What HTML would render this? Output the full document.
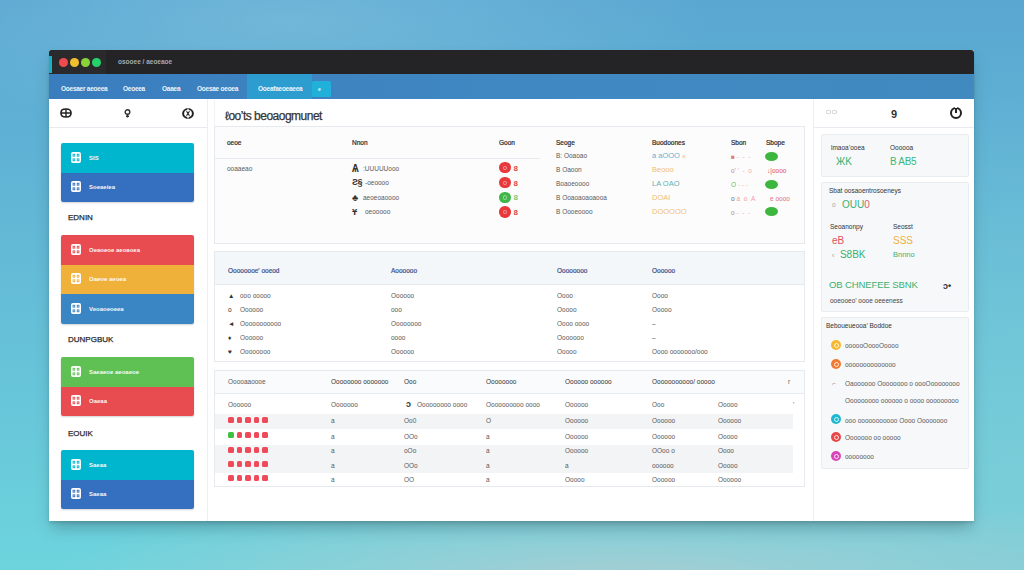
<!DOCTYPE html>
<html><head><meta charset="utf-8">
<style>
*{margin:0;padding:0;box-sizing:border-box}
html,body{width:1024px;height:570px;overflow:hidden}
body{font-family:"Liberation Sans",sans-serif;position:relative;
background:
radial-gradient(ellipse 420px 120px at 290px 20px, rgba(140,200,225,0.45), rgba(140,200,225,0) 100%),
radial-gradient(ellipse 580px 95px at 630px 580px, rgba(172,205,210,0.92), rgba(172,205,210,0) 100%),
radial-gradient(ellipse 300px 480px at 1024px 570px, rgba(128,205,215,0.8), rgba(128,205,215,0) 100%),
linear-gradient(180deg,#5aa7d2 0%,#63bad6 45%,#6dd4dd 100%);}
.a{position:absolute}
.win{position:absolute;left:49px;top:49.5px;width:925px;height:471.5px;background:#fff;box-shadow:0 9px 14px -3px rgba(50,85,95,0.42),0 2px 3px rgba(0,0,0,0.12);border-radius:2px 2px 0 0}
.dot{position:absolute;top:57.6px;width:9px;height:9px;border-radius:50%}
.nt{position:absolute;top:84.5px;color:#eef5fb;font-size:6.5px;font-weight:bold;letter-spacing:-0.25px;white-space:nowrap;line-height:7px}
.t{position:absolute;white-space:nowrap;line-height:1}
.hl{position:absolute;height:1px;background:#e7ebef}
.vl{position:absolute;width:1px;background:#e7ebef}
.card{position:absolute;left:61px;width:133px;border-radius:2px;overflow:hidden;box-shadow:0 1px 2px rgba(0,0,0,0.18)}
.card div.r{height:29.5px;position:relative}
.ci{position:absolute;left:7px;top:8px;width:10px;height:12px;border:1.5px solid #fff;border-radius:2px}
.ci:before{content:"";position:absolute;left:1.5px;top:1.5px;width:4px;height:6px;border-right:1.5px solid #fff;border-bottom:1.5px solid #fff}
.ct{position:absolute;left:28px;top:11.5px;font-size:6px;color:#fff;font-weight:bold;white-space:nowrap;line-height:7px;opacity:0.95}
.lbl{position:absolute;font-size:8px;color:#2a2a2a;font-weight:normal;-webkit-text-stroke:0.25px #2a2a2a;letter-spacing:0px;line-height:8px}
.panel{position:absolute;left:214px;width:591px;border:1px solid #e6eaee;background:#fcfcfd}
.s{font-size:6.5px;color:#5a5a5a;line-height:7px}
.h{font-size:6.5px;color:#2a2a2a;font-weight:normal;-webkit-text-stroke:0.2px currentColor;line-height:7px}
</style></head><body>
<div class="win"></div>
<!-- title bar -->
<div class="a" style="left:49px;top:49.5px;width:925px;height:24.3px;background:#242427;border-radius:3px 3px 0 0"></div>
<div class="a" style="left:49px;top:49.5px;width:57px;height:24.3px;background:#2a2a2d;border-radius:3px 0 0 0"></div>
<div class="a" style="left:49px;top:55.5px;width:2.6px;height:17.7px;background:#14b4c6"></div>
<div class="dot" style="left:59.1px;background:#ef4b4f"></div>
<div class="dot" style="left:69.7px;background:#f2c02e"></div>
<div class="dot" style="left:81px;background:#8bd23a"></div>
<div class="dot" style="left:92.4px;background:#25d36b"></div>
<div class="t" style="left:118px;top:58.5px;font-size:6.5px;color:#a8a8ac;font-weight:bold">osooee / aeoeaoe</div>
<!-- nav -->
<div class="a" style="left:49px;top:73.8px;width:925px;height:25px;background:linear-gradient(90deg,#3a7dbf 0%,#3f88c2 50%,#418ac0 100%)"></div>
<div class="nt" style="left:61px">Ooesaer aeoeea</div>
<div class="nt" style="left:123px">Oeoeea</div>
<div class="nt" style="left:162px">Oaaea</div>
<div class="nt" style="left:197px">Ooesae oeoea</div>
<div class="a" style="left:246.5px;top:73.8px;width:65px;height:25px;background:#2d9ccf"></div>
<div class="nt" style="left:258px">Ooeafaeoeaeea</div>
<div class="a" style="left:311.7px;top:81px;width:19.5px;height:16px;background:#20b0da;border-radius:1.5px"></div>
<div class="nt" style="left:318px;top:86px;font-size:5px">e</div>

<!-- left sidebar -->
<div class="vl" style="left:207px;top:99px;height:422px;background:#eceff2"></div>
<div class="hl" style="left:49px;top:127px;width:158px"></div>
<svg class="a" style="left:60px;top:108px" width="12" height="10" viewBox="0 0 12 10"><path d="M6 1 C2.2 1 1 2 1 5 C1 8 2.2 9 6 9 C9.8 9 11 8 11 5 C11 2 9.8 1 6 1 Z" stroke="#222" stroke-width="1.7" fill="none"/><path d="M6 1V9M1.5 5H10.5" stroke="#222" stroke-width="1.4"/></svg>
<svg class="a" style="left:124px;top:108.5px" width="7" height="9" viewBox="0 0 7 9"><circle cx="3.5" cy="3" r="2.3" stroke="#333" stroke-width="1.4" fill="none"/><path d="M3.5 5.3V8.6M2 7.3H5" stroke="#333" stroke-width="1.4"/></svg>
<svg class="a" style="left:181.5px;top:107.5px" width="12" height="11" viewBox="0 0 12 11"><ellipse cx="6" cy="5.5" rx="4.9" ry="4.4" stroke="#222" stroke-width="2" fill="none"/><path d="M6 0.5V4M6 7V10.5" stroke="#fff" stroke-width="1.3"/><path d="M4.5 3.2L6 5.5L4.5 7.8M7.5 3.2L6 5.5L7.5 7.8" stroke="#222" stroke-width="1.1" fill="none"/></svg>

<div class="card" style="top:143px"><div class="r" style="background:#00b6cf"><svg class="ic" width="10" height="11" viewBox="0 0 10 11" style="position:absolute;left:9.8px;top:8.5px"><rect x="0" y="0" width="10" height="11" rx="2" fill="#fff"/><rect x="1.6" y="1.8" width="2.6" height="2.8" fill="#00b6cf"/><rect x="5.8" y="1.8" width="2.6" height="2.8" fill="#00b6cf"/><rect x="1.6" y="6.4" width="2.6" height="2.8" fill="#00b6cf"/><rect x="5.8" y="6.4" width="2.6" height="2.8" fill="#00b6cf"/><rect x="2.5" y="2.7" width="0.9" height="1" fill="#fff"/><rect x="6.7" y="2.7" width="0.9" height="1" fill="#fff"/><rect x="2.5" y="7.3" width="0.9" height="1" fill="#fff"/><rect x="6.7" y="7.3" width="0.9" height="1" fill="#fff"/></svg><div class="ct">SIS</div></div><div class="r" style="background:#356fc0"><svg class="ic" width="10" height="11" viewBox="0 0 10 11" style="position:absolute;left:9.8px;top:8.5px"><rect x="0" y="0" width="10" height="11" rx="2" fill="#fff"/><rect x="1.6" y="1.8" width="2.6" height="2.8" fill="#356fc0"/><rect x="5.8" y="1.8" width="2.6" height="2.8" fill="#356fc0"/><rect x="1.6" y="6.4" width="2.6" height="2.8" fill="#356fc0"/><rect x="5.8" y="6.4" width="2.6" height="2.8" fill="#356fc0"/><rect x="2.5" y="2.7" width="0.9" height="1" fill="#fff"/><rect x="6.7" y="2.7" width="0.9" height="1" fill="#fff"/><rect x="2.5" y="7.3" width="0.9" height="1" fill="#fff"/><rect x="6.7" y="7.3" width="0.9" height="1" fill="#fff"/></svg><div class="ct">Soeaeiea</div></div></div>
<div class="lbl" style="left:68px;top:213.5px">EDNIN</div>
<div class="card" style="top:235px"><div class="r" style="background:#e84b50"><svg class="ic" width="10" height="11" viewBox="0 0 10 11" style="position:absolute;left:9.8px;top:8.5px"><rect x="0" y="0" width="10" height="11" rx="2" fill="#fff"/><rect x="1.6" y="1.8" width="2.6" height="2.8" fill="#e84b50"/><rect x="5.8" y="1.8" width="2.6" height="2.8" fill="#e84b50"/><rect x="1.6" y="6.4" width="2.6" height="2.8" fill="#e84b50"/><rect x="5.8" y="6.4" width="2.6" height="2.8" fill="#e84b50"/><rect x="2.5" y="2.7" width="0.9" height="1" fill="#fff"/><rect x="6.7" y="2.7" width="0.9" height="1" fill="#fff"/><rect x="2.5" y="7.3" width="0.9" height="1" fill="#fff"/><rect x="6.7" y="7.3" width="0.9" height="1" fill="#fff"/></svg><div class="ct">Oeaoeoe aeoaoea</div></div><div class="r" style="background:#f0b13a"><svg class="ic" width="10" height="11" viewBox="0 0 10 11" style="position:absolute;left:9.8px;top:8.5px"><rect x="0" y="0" width="10" height="11" rx="2" fill="#fff"/><rect x="1.6" y="1.8" width="2.6" height="2.8" fill="#f0b13a"/><rect x="5.8" y="1.8" width="2.6" height="2.8" fill="#f0b13a"/><rect x="1.6" y="6.4" width="2.6" height="2.8" fill="#f0b13a"/><rect x="5.8" y="6.4" width="2.6" height="2.8" fill="#f0b13a"/><rect x="2.5" y="2.7" width="0.9" height="1" fill="#fff"/><rect x="6.7" y="2.7" width="0.9" height="1" fill="#fff"/><rect x="2.5" y="7.3" width="0.9" height="1" fill="#fff"/><rect x="6.7" y="7.3" width="0.9" height="1" fill="#fff"/></svg><div class="ct">Oaeoe aeoea</div></div><div class="r" style="background:#3a86c4"><svg class="ic" width="10" height="11" viewBox="0 0 10 11" style="position:absolute;left:9.8px;top:8.5px"><rect x="0" y="0" width="10" height="11" rx="2" fill="#fff"/><rect x="1.6" y="1.8" width="2.6" height="2.8" fill="#3a86c4"/><rect x="5.8" y="1.8" width="2.6" height="2.8" fill="#3a86c4"/><rect x="1.6" y="6.4" width="2.6" height="2.8" fill="#3a86c4"/><rect x="5.8" y="6.4" width="2.6" height="2.8" fill="#3a86c4"/><rect x="2.5" y="2.7" width="0.9" height="1" fill="#fff"/><rect x="6.7" y="2.7" width="0.9" height="1" fill="#fff"/><rect x="2.5" y="7.3" width="0.9" height="1" fill="#fff"/><rect x="6.7" y="7.3" width="0.9" height="1" fill="#fff"/></svg><div class="ct">Veoaoeoeea</div></div></div>
<div class="lbl" style="left:68px;top:335.5px">DUNPGBUK</div>
<div class="card" style="top:357px"><div class="r" style="background:#5fc054"><svg class="ic" width="10" height="11" viewBox="0 0 10 11" style="position:absolute;left:9.8px;top:8.5px"><rect x="0" y="0" width="10" height="11" rx="2" fill="#fff"/><rect x="1.6" y="1.8" width="2.6" height="2.8" fill="#5fc054"/><rect x="5.8" y="1.8" width="2.6" height="2.8" fill="#5fc054"/><rect x="1.6" y="6.4" width="2.6" height="2.8" fill="#5fc054"/><rect x="5.8" y="6.4" width="2.6" height="2.8" fill="#5fc054"/><rect x="2.5" y="2.7" width="0.9" height="1" fill="#fff"/><rect x="6.7" y="2.7" width="0.9" height="1" fill="#fff"/><rect x="2.5" y="7.3" width="0.9" height="1" fill="#fff"/><rect x="6.7" y="7.3" width="0.9" height="1" fill="#fff"/></svg><div class="ct">Saeaeoe aeoaeoe</div></div><div class="r" style="background:#e84b50"><svg class="ic" width="10" height="11" viewBox="0 0 10 11" style="position:absolute;left:9.8px;top:8.5px"><rect x="0" y="0" width="10" height="11" rx="2" fill="#fff"/><rect x="1.6" y="1.8" width="2.6" height="2.8" fill="#e84b50"/><rect x="5.8" y="1.8" width="2.6" height="2.8" fill="#e84b50"/><rect x="1.6" y="6.4" width="2.6" height="2.8" fill="#e84b50"/><rect x="5.8" y="6.4" width="2.6" height="2.8" fill="#e84b50"/><rect x="2.5" y="2.7" width="0.9" height="1" fill="#fff"/><rect x="6.7" y="2.7" width="0.9" height="1" fill="#fff"/><rect x="2.5" y="7.3" width="0.9" height="1" fill="#fff"/><rect x="6.7" y="7.3" width="0.9" height="1" fill="#fff"/></svg><div class="ct">Oaeaa</div></div></div>
<div class="lbl" style="left:68px;top:429.5px">EOUIK</div>
<div class="card" style="top:450px"><div class="r" style="background:#00b6cf"><svg class="ic" width="10" height="11" viewBox="0 0 10 11" style="position:absolute;left:9.8px;top:8.5px"><rect x="0" y="0" width="10" height="11" rx="2" fill="#fff"/><rect x="1.6" y="1.8" width="2.6" height="2.8" fill="#00b6cf"/><rect x="5.8" y="1.8" width="2.6" height="2.8" fill="#00b6cf"/><rect x="1.6" y="6.4" width="2.6" height="2.8" fill="#00b6cf"/><rect x="5.8" y="6.4" width="2.6" height="2.8" fill="#00b6cf"/><rect x="2.5" y="2.7" width="0.9" height="1" fill="#fff"/><rect x="6.7" y="2.7" width="0.9" height="1" fill="#fff"/><rect x="2.5" y="7.3" width="0.9" height="1" fill="#fff"/><rect x="6.7" y="7.3" width="0.9" height="1" fill="#fff"/></svg><div class="ct">Saeaa</div></div><div class="r" style="background:#356fc0"><svg class="ic" width="10" height="11" viewBox="0 0 10 11" style="position:absolute;left:9.8px;top:8.5px"><rect x="0" y="0" width="10" height="11" rx="2" fill="#fff"/><rect x="1.6" y="1.8" width="2.6" height="2.8" fill="#356fc0"/><rect x="5.8" y="1.8" width="2.6" height="2.8" fill="#356fc0"/><rect x="1.6" y="6.4" width="2.6" height="2.8" fill="#356fc0"/><rect x="5.8" y="6.4" width="2.6" height="2.8" fill="#356fc0"/><rect x="2.5" y="2.7" width="0.9" height="1" fill="#fff"/><rect x="6.7" y="2.7" width="0.9" height="1" fill="#fff"/><rect x="2.5" y="7.3" width="0.9" height="1" fill="#fff"/><rect x="6.7" y="7.3" width="0.9" height="1" fill="#fff"/></svg><div class="ct">Saeaa</div></div></div>


<!-- main -->
<div class="vl" style="left:214px;top:100px;height:26px;background:#f0f2f4"></div>
<div class="t" id="ttl" style="left:225px;top:109.5px;font-size:12px;color:#333;-webkit-text-stroke:0.25px #333;letter-spacing:-0.5px">&#x2113;oo&#x2019;ts beoaogmunet</div>

<div class="panel" style="top:126px;height:118px"></div>
<div class="hl" style="left:215px;top:158px;width:325px"></div>
<div class="t h" style="left:227px;top:139px">oeoe</div>
<div class="t h" style="left:352px;top:139px">Nnon</div>
<div class="t h" style="left:499px;top:139px">Goon</div>
<div class="t h" style="left:556px;top:139px">Seoge</div>
<div class="t h" style="left:652px;top:139px">Buodoones</div>
<div class="t h" style="left:731px;top:139px">Sbon</div>
<div class="t h" style="left:766px;top:139px">Sbope</div>

<div class="t s" style="left:227px;top:165px">ooaaeao</div>
<div class="t" style="left:352px;top:164px;font-size:10px;font-weight:bold;color:#333;letter-spacing:-1px">&#x0466;</div><div class="t s" style="left:363px;top:165px">:UUUUUooo</div>
<div class="t" style="left:352px;top:178px;font-size:9px;font-weight:bold;color:#333;letter-spacing:-0.5px">&#x01A7;&#x00A7;</div><div class="t s" style="left:365px;top:179px">-oeoooo</div>
<div class="t" style="left:352px;top:192.5px;font-size:9.5px;font-weight:bold;color:#333">&#x2663;</div><div class="t s" style="left:363px;top:194px">aeoeoaoooo</div>
<div class="t" style="left:352px;top:206.5px;font-size:9.5px;font-weight:bold;color:#333">&#x04B0;</div><div class="t s" style="left:365px;top:208px">oeooooo</div>

<div class="a" style="left:499.2px;top:162px;width:11.4px;height:11.4px;border-radius:50%;background:#e8383b"></div><div class="a" style="left:503px;top:165.5px;width:4px;height:4.5px;border-radius:50%;border:1px solid rgba(255,255,255,0.45)"></div><div class="t" style="left:513.5px;top:164.5px;font-size:8px;font-weight:bold;color:#e04848">8</div>
<div class="a" style="left:499.2px;top:177px;width:11.4px;height:11.4px;border-radius:50%;background:#e8383b"></div><div class="a" style="left:503px;top:180.5px;width:4px;height:4.5px;border-radius:50%;border:1px solid rgba(255,255,255,0.45)"></div><div class="t" style="left:513.5px;top:179.5px;font-size:8px;font-weight:bold;color:#e04848">8</div>
<div class="a" style="left:499.2px;top:191.5px;width:11.4px;height:11.4px;border-radius:50%;background:#3fb648"></div><div class="a" style="left:503px;top:195.0px;width:4px;height:4.5px;border-radius:50%;border:1px solid rgba(255,255,255,0.45)"></div><div class="t" style="left:513.5px;top:194.0px;font-size:8px;font-weight:bold;color:#78c878">8</div>
<div class="a" style="left:499.2px;top:206.3px;width:11.4px;height:11.4px;border-radius:50%;background:#e8383b"></div><div class="a" style="left:503px;top:209.8px;width:4px;height:4.5px;border-radius:50%;border:1px solid rgba(255,255,255,0.45)"></div><div class="t" style="left:513.5px;top:208.8px;font-size:8px;font-weight:bold;color:#e04848">8</div>

<div class="t s" style="left:556px;top:152px">&#x0042;: Ooaoao</div>
<div class="t s" style="left:556px;top:166px">&#x0042; Oaoon</div>
<div class="t s" style="left:556px;top:180px">&#x0042;oaoeoooo</div>
<div class="t s" style="left:556px;top:194px">&#x0042; Ooaoaoaoaooa</div>
<div class="t s" style="left:556px;top:208px">&#x0042; Oooeoooo</div>

<div class="t s" style="left:652px;top:152px;color:#6aaed0;font-size:7.5px">a aOOO <span style="color:#f0c890;font-size:6px">a</span></div>
<div class="t s" style="left:652px;top:166px;color:#f0c070;font-size:7.5px">Beooo</div>
<div class="t s" style="left:652px;top:180px;color:#60b0b0;font-size:7.5px">LA OAO</div>
<div class="t s" style="left:652px;top:194px;color:#f0c070;font-size:7.5px">DOAI</div>
<div class="t s" style="left:652px;top:208px;color:#f0c070;font-size:7.5px">DOOOOO</div>

<div class="t s" style="left:731px;top:153px;color:#e08070">&#x25A0; <span style="color:#f0b0b0">- &nbsp;- &nbsp;-</span></div>
<div class="t s" style="left:731px;top:167px;color:#c09080">o&#x2019; <span style="color:#f0b0b0">' &nbsp;- &nbsp;o</span></div>
<div class="t s" style="left:731px;top:181px;color:#60c060">O <span style="color:#f0c0a0">- - -</span></div>
<div class="t s" style="left:731px;top:195px;color:#707070">o <span style="color:#f0a0a0">a &nbsp;o &nbsp;A</span></div>
<div class="t s" style="left:731px;top:209px;color:#b09060">o <span style="color:#f0b0b0">- &nbsp;- &nbsp;-</span></div>

<div class="a" style="left:765px;top:152px;width:13px;height:9px;border-radius:50%;background:#3cb63c"></div>
<div class="t s" style="left:767px;top:167px;color:#e05060">&#x2193;|oooo</div>
<div class="a" style="left:765px;top:180px;width:13px;height:9px;border-radius:50%;background:#3cb63c"></div>
<div class="t s" style="left:770px;top:195px;color:#e07080">e oooo</div>
<div class="a" style="left:765px;top:207px;width:13px;height:9px;border-radius:50%;background:#3cb63c"></div>

<div class="panel" style="top:251px;height:111px;background:#fff"></div>
<div class="a" style="left:215px;top:252px;width:589px;height:33px;background:#f4f7fa;border-bottom:1px solid #e6eaee"></div>
<div class="t h" style="left:228px;top:267px;color:#3c4f8c;font-weight:normal">Oooooooe' ooeod</div>
<div class="t h" style="left:391px;top:267px;color:#3c4f8c;font-weight:normal">Aoooooo</div>
<div class="t h" style="left:557px;top:267px;color:#3c4f8c;font-weight:normal">Oooooooo</div>
<div class="t h" style="left:652px;top:267px;color:#3c4f8c;font-weight:normal">Oooooo</div>

<div class="t s" style="left:228px;top:292px;color:#333">&#x25B2;</div><div class="t s" style="left:240px;top:292px">ooo ooooo</div>
<div class="t s" style="left:228px;top:306px;color:#333">o</div><div class="t s" style="left:240px;top:306px">Oooooo</div>
<div class="t s" style="left:228px;top:320px;color:#333">&#x25C4;</div><div class="t s" style="left:240px;top:320px">Ooooooooooo</div>
<div class="t s" style="left:228px;top:334px;color:#333">&#x2666;</div><div class="t s" style="left:240px;top:334px">Oooooo</div>
<div class="t s" style="left:228px;top:348px;color:#333">&#x2665;</div><div class="t s" style="left:240px;top:348px">Oooooooo</div>

<div class="t s" style="left:391px;top:292px">Oooooo</div>
<div class="t s" style="left:391px;top:306px">ooo</div>
<div class="t s" style="left:391px;top:320px">Oooooooo</div>
<div class="t s" style="left:391px;top:334px">oooo</div>
<div class="t s" style="left:391px;top:348px">Oooooo</div>

<div class="t s" style="left:557px;top:292px">Oooo</div>
<div class="t s" style="left:557px;top:306px">Ooooo</div>
<div class="t s" style="left:557px;top:320px">Oooo oooo</div>
<div class="t s" style="left:557px;top:334px">Ooooooo</div>
<div class="t s" style="left:557px;top:348px">Ooooo</div>

<div class="t s" style="left:652px;top:292px">Oooo</div>
<div class="t s" style="left:652px;top:306px">Ooooo</div>
<div class="t s" style="left:652px;top:320px">&#x2013;</div>
<div class="t s" style="left:652px;top:334px">&#x2013;</div>
<div class="t s" style="left:652px;top:348px">Oooo ooooooo/ooo</div>

<div class="panel" style="top:370px;height:117px;background:#fff"></div>
<div class="a" style="left:215px;top:371px;width:589px;height:22px;background:#fafbfc"></div><div class="hl" style="left:215px;top:393px;width:589px"></div>
<div class="a" style="left:215px;top:414px;width:578px;height:15px;background:#f3f4f5"></div>
<div class="a" style="left:215px;top:445px;width:578px;height:28px;background:#f3f4f5"></div>
<div class="t s" style="left:228px;top:378px">Ooooaaoooe</div>
<div class="t s" style="left:331px;top:378px;color:#333">Oooooooo ooooooo</div>
<div class="t s" style="left:404px;top:378px;color:#333">Ooo</div>
<div class="t s" style="left:486px;top:378px;color:#333">Oooooooo</div>
<div class="t s" style="left:565px;top:378px;color:#333">Oooooo oooooo</div>
<div class="t s" style="left:652px;top:378px;color:#333">Ooooooooooo/ ooooo</div>
<div class="t s" style="left:788px;top:378px">r</div>

<div class="t s" style="left:228px;top:401px">Oooooo</div>
<div class="t s" style="left:331px;top:401px">Ooooooo</div>
<div class="t" style="left:406px;top:399.5px;font-size:9px;font-weight:bold;color:#333">&#x0254;</div><div class="t s" style="left:417px;top:401px">Ooooooooo oooo</div>
<div class="t s" style="left:486px;top:401px">Oooooooooo oooo</div>
<div class="t s" style="left:565px;top:401px">Oooooo</div>
<div class="t s" style="left:652px;top:401px">Ooo</div>
<div class="t s" style="left:718px;top:401px">Ooooo</div>
<div class="t s" style="left:793px;top:401px">'</div>
<div class="a" style="left:228px;top:417px;width:5.5px;height:5.5px;border-radius:1.5px;background:#ee4a5a"></div><div class="a" style="left:236.5px;top:417px;width:5.5px;height:5.5px;border-radius:1.5px;background:#ee4a5a"></div><div class="a" style="left:245px;top:417px;width:5.5px;height:5.5px;border-radius:1.5px;background:#ee4a5a"></div><div class="a" style="left:253.5px;top:417px;width:5.5px;height:5.5px;border-radius:1.5px;background:#ee4a5a"></div><div class="a" style="left:262px;top:417px;width:5.5px;height:5.5px;border-radius:1.5px;background:#ee4a5a"></div><div class="t s" style="left:331px;top:417.3px">a</div><div class="t s" style="left:404px;top:417.3px">Oo0</div><div class="t s" style="left:486px;top:417.3px">O</div><div class="t s" style="left:565px;top:417.3px">Oooooo</div><div class="t s" style="left:652px;top:417.3px">Oooooo</div><div class="t s" style="left:718px;top:417.3px">Oooooo</div><div class="a" style="left:228px;top:432px;width:5.5px;height:5.5px;border-radius:1.5px;background:#40c040"></div><div class="a" style="left:236.5px;top:432px;width:5.5px;height:5.5px;border-radius:1.5px;background:#ee4a5a"></div><div class="a" style="left:245px;top:432px;width:5.5px;height:5.5px;border-radius:1.5px;background:#ee4a5a"></div><div class="a" style="left:253.5px;top:432px;width:5.5px;height:5.5px;border-radius:1.5px;background:#ee4a5a"></div><div class="a" style="left:262px;top:432px;width:5.5px;height:5.5px;border-radius:1.5px;background:#ee4a5a"></div><div class="t s" style="left:331px;top:432.5px">a</div><div class="t s" style="left:404px;top:432.5px">OOo</div><div class="t s" style="left:486px;top:432.5px">a</div><div class="t s" style="left:565px;top:432.5px">Oooooo</div><div class="t s" style="left:652px;top:432.5px">Oooooo</div><div class="t s" style="left:718px;top:432.5px">Ooooo</div><div class="a" style="left:228px;top:447px;width:5.5px;height:5.5px;border-radius:1.5px;background:#ee4a5a"></div><div class="a" style="left:236.5px;top:447px;width:5.5px;height:5.5px;border-radius:1.5px;background:#ee4a5a"></div><div class="a" style="left:245px;top:447px;width:5.5px;height:5.5px;border-radius:1.5px;background:#ee4a5a"></div><div class="a" style="left:253.5px;top:447px;width:5.5px;height:5.5px;border-radius:1.5px;background:#ee4a5a"></div><div class="a" style="left:262px;top:447px;width:5.5px;height:5.5px;border-radius:1.5px;background:#ee4a5a"></div><div class="t s" style="left:331px;top:447.3px">a</div><div class="t s" style="left:404px;top:447.3px">oOo</div><div class="t s" style="left:486px;top:447.3px">a</div><div class="t s" style="left:565px;top:447.3px">Oooooo</div><div class="t s" style="left:652px;top:447.3px">OOoo o</div><div class="t s" style="left:718px;top:447.3px">Oooo</div><div class="a" style="left:228px;top:461px;width:5.5px;height:5.5px;border-radius:1.5px;background:#ee4a5a"></div><div class="a" style="left:236.5px;top:461px;width:5.5px;height:5.5px;border-radius:1.5px;background:#ee4a5a"></div><div class="a" style="left:245px;top:461px;width:5.5px;height:5.5px;border-radius:1.5px;background:#ee4a5a"></div><div class="a" style="left:253.5px;top:461px;width:5.5px;height:5.5px;border-radius:1.5px;background:#ee4a5a"></div><div class="a" style="left:262px;top:461px;width:5.5px;height:5.5px;border-radius:1.5px;background:#ee4a5a"></div><div class="t s" style="left:331px;top:461.7px">a</div><div class="t s" style="left:404px;top:461.7px">OOo</div><div class="t s" style="left:486px;top:461.7px">a</div><div class="t s" style="left:565px;top:461.7px">a</div><div class="t s" style="left:652px;top:461.7px">oooooo</div><div class="t s" style="left:718px;top:461.7px">Ooooo</div><div class="a" style="left:228px;top:475px;width:5.5px;height:5.5px;border-radius:1.5px;background:#ee4a5a"></div><div class="a" style="left:236.5px;top:475px;width:5.5px;height:5.5px;border-radius:1.5px;background:#ee4a5a"></div><div class="a" style="left:245px;top:475px;width:5.5px;height:5.5px;border-radius:1.5px;background:#ee4a5a"></div><div class="a" style="left:253.5px;top:475px;width:5.5px;height:5.5px;border-radius:1.5px;background:#ee4a5a"></div><div class="a" style="left:262px;top:475px;width:5.5px;height:5.5px;border-radius:1.5px;background:#ee4a5a"></div><div class="t s" style="left:331px;top:475.5px">a</div><div class="t s" style="left:404px;top:475.5px">OO</div><div class="t s" style="left:486px;top:475.5px">a</div><div class="t s" style="left:565px;top:475.5px">Ooooo</div><div class="t s" style="left:652px;top:475.5px">Oooooo</div><div class="t s" style="left:718px;top:475.5px">Oooooo</div>
<!-- right sidebar -->
<div class="vl" style="left:813px;top:99px;height:422px;background:#eceff2"></div>
<div class="hl" style="left:814px;top:127px;width:160px"></div>

<div class="a" style="left:826px;top:110px;width:5px;height:4px;border:1px solid #d8d8d8;border-radius:1px"></div><div class="a" style="left:832px;top:110px;width:5px;height:4px;border:1px solid #d8d8d8;border-radius:1px"></div>
<div class="t" style="left:891px;top:108.5px;font-size:11px;font-weight:bold;color:#333">9</div>
<div class="a" style="left:950px;top:107px;width:12px;height:12px;border:2.2px solid #222;border-radius:50%"></div><div class="a" style="left:955px;top:106px;width:2px;height:5px;background:#fff"></div><div class="a" style="left:955.3px;top:108px;width:1.5px;height:5px;background:#222"></div>

<div class="a" style="left:821px;top:134px;width:148px;height:43px;background:#f6f8fa;border:1px solid #eaedf0;border-radius:2px"></div>
<div class="t s" style="left:831px;top:144px;color:#333">lmaoa&#x2019;ooea</div>
<div class="t s" style="left:890px;top:144px;color:#333">Oooooa</div>
<div class="t" style="left:836px;top:157px;font-size:10px;color:#3bb070">&#x0416;K</div>
<div class="t" style="left:890px;top:157px;font-size:10px;color:#3bb878;letter-spacing:-0.3px">B AB5</div>

<div class="a" style="left:821px;top:182px;width:148px;height:130px;background:#f6f8fa;border:1px solid #eaedf0;border-radius:2px"></div>
<div class="t s" style="left:829px;top:187px;color:#333">Sbat oosaoentrosoeneys</div>
<div class="t s" style="left:832px;top:201px;color:#aaa">o</div>
<div class="t" style="left:842px;top:200px;font-size:10px;color:#3bb070">OUU<span style="color:#d06070">0</span></div>
<div class="t s" style="left:830px;top:223px;color:#333">Seoanonpy</div>
<div class="t s" style="left:893px;top:223px;color:#333">Seosst</div>
<div class="t" style="left:832px;top:236px;font-size:10px;color:#e05060">eB</div>
<div class="t" style="left:893px;top:236px;font-size:10px;color:#f0b040">SSS</div>
<div class="t" style="left:832px;top:250px;font-size:10px;color:#3bb070"><span style="color:#999;font-size:7px">&#x2039;</span>&nbsp; S8BK</div>
<div class="t s" style="left:893px;top:251px;color:#3bb070;font-size:7.5px">Bnnno</div>
<div class="t" style="left:829px;top:280px;font-size:9.5px;color:#3bb070;letter-spacing:-0.1px">OB CHNEFEE SBNK</div>
<div class="t" style="left:943px;top:281.5px;font-size:9px;color:#333;font-weight:bold">&#x0254;&#x2022;</div>
<div class="t s" style="left:830px;top:297px;color:#444">ooeooeo&#x2019; oooe oeeeness</div>

<div class="a" style="left:821px;top:317px;width:148px;height:152px;background:#f6f8fa;border:1px solid #eaedf0;border-radius:2px"></div>
<div class="t s" style="left:826px;top:322px;color:#333">Beboueueooa&#x2019; Boddoe</div>
<div class="a" style="left:831px;top:340px;width:10px;height:10px;border-radius:50%;background:#f5b830"></div><div class="a" style="left:833.5px;top:342.5px;width:5px;height:5px;border-radius:50%;border:1px solid rgba(255,255,255,0.8)"></div><div class="t s" style="left:845px;top:342px">oooooOoooOoooo</div><div class="a" style="left:831px;top:359px;width:10px;height:10px;border-radius:50%;background:#f07a30"></div><div class="a" style="left:833.5px;top:361.5px;width:5px;height:5px;border-radius:50%;border:1px solid rgba(255,255,255,0.8)"></div><div class="t s" style="left:845px;top:361px">oooooooooooooo</div><div class="a" style="left:831px;top:414px;width:10px;height:10px;border-radius:50%;background:#1eb8d0"></div><div class="a" style="left:833.5px;top:416.5px;width:5px;height:5px;border-radius:50%;border:1px solid rgba(255,255,255,0.8)"></div><div class="t s" style="left:845px;top:417.3px">ooo ooooooooooo Oooo Oooooooo</div><div class="a" style="left:831px;top:432px;width:10px;height:10px;border-radius:50%;background:#e84848"></div><div class="a" style="left:833.5px;top:434.5px;width:5px;height:5px;border-radius:50%;border:1px solid rgba(255,255,255,0.8)"></div><div class="t s" style="left:845px;top:434px">Ooooooo oo ooooo</div><div class="a" style="left:831px;top:451px;width:10px;height:10px;border-radius:50%;background:#d848b8"></div><div class="a" style="left:833.5px;top:453.5px;width:5px;height:5px;border-radius:50%;border:1px solid rgba(255,255,255,0.8)"></div><div class="t s" style="left:845px;top:453px">oooooooo</div><div class="t s" style="left:832px;top:380px;color:#999">&#x2310;</div><div class="t s" style="left:845px;top:380px">Oaoooooo Oooooooo o oooOoooooooo</div><div class="t s" style="left:845px;top:397px">Ooooooooo oooooo o oooo ooooooooo</div></body></html>
